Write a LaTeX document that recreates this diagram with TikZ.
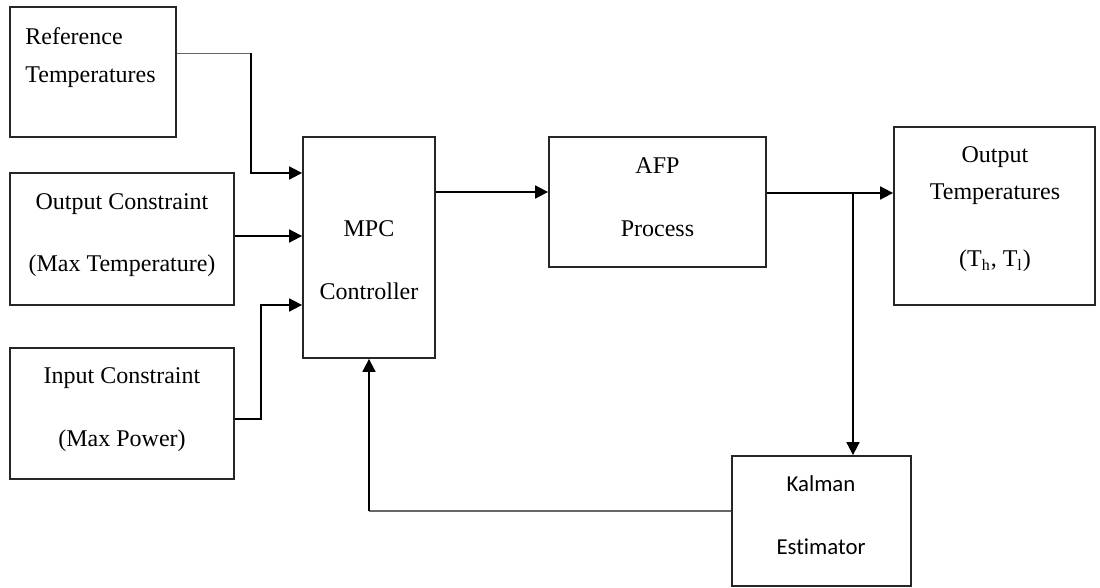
\documentclass[tikz,border=0pt]{standalone}
\usepackage{fontspec}
\setmainfont{Liberation Serif}
\newfontfamily\kalfont[Ligatures=NoCommon]{Carlito}
\usetikzlibrary{arrows.meta}
\begin{document}
\begin{tikzpicture}[x=0.5pt,y=-0.5pt,
  blk/.style={draw=black!85, line width=0.9pt, inner sep=0pt, fill=none},
  lbl/.style={anchor=base, inner sep=0pt, font=\fontsize{12}{14}\selectfont},
  klbl/.style={anchor=base, inner sep=0pt, font=\kalfont\fontsize{11.4}{13}\selectfont},
  tip/.style={-{Triangle[length=6.5pt,width=6.5pt]}},
  conn/.style={draw=black, line width=0.9pt, tip},
  thinline/.style={draw=black!60, line width=0.75pt}]
\useasboundingbox (0,0) rectangle (1100,588);

% blocks
\node[blk, minimum width=83pt,   minimum height=65pt]    (ref) at (93,72)      {};
\node[blk, minimum width=112pt,  minimum height=66pt]    (oc)  at (122,239)    {};
\node[blk, minimum width=112pt,  minimum height=65.5pt]  (ic)  at (122,413.5)  {};
\node[blk, minimum width=66pt,   minimum height=110.5pt] (mpc) at (369,247.5)  {};
\node[blk, minimum width=108.5pt,minimum height=65pt]    (afp) at (657.5,202)  {};
\node[blk, minimum width=100.5pt,minimum height=89pt]    (ot)  at (994.5,216)  {};
\node[blk, minimum width=89.5pt, minimum height=65pt]    (ke)  at (821.5,521)  {};

% labels
\node[lbl, anchor=base west] (refa) at (25,45)  {Reference};
\node[lbl, anchor=base west] (refb) at (25,83)  {Temperatures};
\node[lbl] (oca) at (122,210) {Output Constraint};
\node[lbl] (ocb) at (122,272) {(Max Temperature)};
\node[lbl] (ica) at (122,384) {Input Constraint};
\node[lbl] (icb) at (122,447) {(Max Power)};
\node[lbl] (mpca) at (369,237) {MPC};
\node[lbl] (mpcb) at (369,300) {Controller};
\node[lbl] (afpa) at (657.5,174) {AFP};
\node[lbl] (afpb) at (657.5,237) {Process};
\node[lbl] (ota) at (995,163) {Output};
\node[lbl] (otb) at (995,200) {Temperatures};
\node[lbl] (otc) at (995,267) {(T\textsubscript{h}, T\textsubscript{l})};
\node[klbl] (kea) at (821,492) {Kalman};
\node[klbl] (keb) at (821,555) {Estimator};

% inputs to the controller
\draw[thinline] ([yshift=9.25pt]ref.east) -- ++(74,0) coordinate (r1);
\draw[conn] (r1) |- ([yshift=37.25pt]mpc.west);
\draw[conn] ([yshift=1.5pt]oc.east) coordinate (o1) -- (o1 -| mpc.west);
\draw[conn] ([yshift=-2.75pt]ic.east) -- ++(26,0) |- ([yshift=-28.75pt]mpc.west);

% forward path
\draw[conn] ([yshift=27.75pt]mpc.east) coordinate (m1) -- (m1 -| afp.west);
\draw[conn] ([yshift=4.5pt]afp.east) coordinate (a1) -- (a1 -| ot.west);
\coordinate (br) at ([xshift=15.75pt]ke.north |- a1);
\draw[conn] (br) -- (br |- ke.north);

% estimator feedback
\coordinate (k1) at ([yshift=5pt]ke.west -| mpc.south);
\draw[thinline] ([yshift=5pt]ke.west) -- (k1);
\draw[conn] (k1) -- (mpc.south);
\end{tikzpicture}
\end{document}
